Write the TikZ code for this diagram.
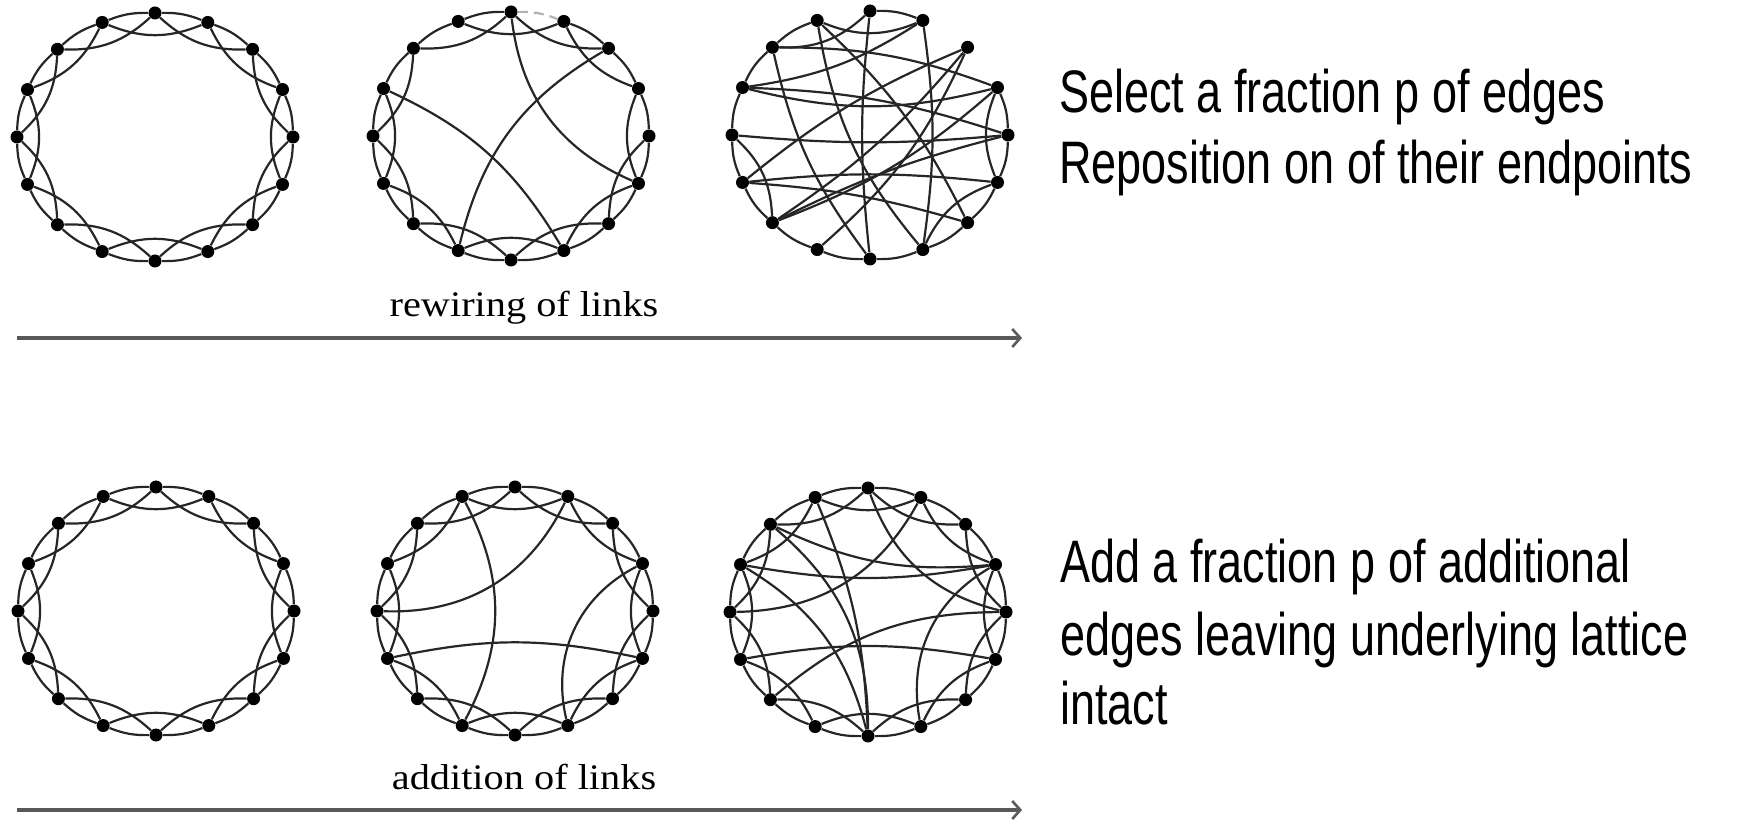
\documentclass[tikz,border=0pt]{standalone}
\usepackage{fontspec}
\usetikzlibrary{arrows.meta}
\newfontfamily\sidefont[FakeStretch=0.75]{Liberation Sans}
\newfontfamily\labfont[FakeStretch=1.12]{Liberation Serif}
\tikzset{
  dot/.style={circle, fill=black, inner sep=0pt, minimum size=6.5pt},
  lnk/.style={draw=black!85, line width=1.1pt},
  faint/.style={draw=black!30, line width=1.1pt, dash pattern=on 5pt off 3pt},
  axis/.style={draw=black!65, line width=1.8pt, -{Straight Barb[length=4pt,width=9pt,line width=1.3pt]}},
  sidetext/.style={anchor=base west, inner sep=0pt, font=\sidefont\fontsize{30}{30}\selectfont},
  labtext/.style={anchor=base, inner sep=0pt, font=\labfont\fontsize{18}{18}\selectfont}
}
\newcommand\placering[3]{%
  \foreach \k in {0,...,15}{
    \node[dot] (#1\k) at ({#2+138*cos(90-22.5*\k)},{#3+124*sin(90-22.5*\k)}) {};
  }}
\newcommand\lattice[1]{%
  \foreach \i in {0,...,15}{
    \pgfmathtruncatemacro\ja{mod(\i+1,16)}
    \pgfmathtruncatemacro\jb{mod(\i+2,16)}
    \draw[lnk] (#1\i) to[bend left=11] (#1\ja);
    \draw[lnk] (#1\i) to[bend right=22] (#1\jb);
  }}
\newcommand\edgelist[2]{%
  \foreach \a/\b/\c in {#2}{\draw[lnk] (#1\a) to[bend left=\c] (#1\b);}}
\begin{document}
\begin{tikzpicture}[x=0.5pt,y=0.5pt]
\useasboundingbox (0,0) rectangle (1746,820);
% ---- rings
\placering{a}{155}{683}
\placering{b}{511}{684}
\placering{c}{870}{685}
\placering{d}{156}{209}
\placering{e}{515}{209}
\placering{f}{868}{208}
% ---- picture 1: regular lattice
\lattice{a}
% ---- picture 2: a few rewired links
\edgelist{b}{1/2/11,2/3/11,3/4/11,4/5/11,5/6/11,6/7/11,7/8/11,8/9/11,9/10/11,10/11/11,11/12/11,12/13/11,13/14/11,14/15/11,15/0/11,
  0/2/-22,1/3/-22,3/5/-22,4/6/-22,5/7/-22,6/8/-22,7/9/-22,8/10/-22,9/11/-22,10/12/-22,11/13/-22,12/14/-22,14/0/-22,15/1/-22,
  0/5/-30,13/7/17,2/9/-23}
\draw[faint] (b0) to[bend left=11] (b1);
% ---- picture 3: random graph
\edgelist{c}{0/1/11,3/4/11,4/5/11,5/6/11,6/7/11,7/8/11,8/9/11,9/10/11,10/11/11,11/12/11,12/13/11,13/14/11,14/15/11,
  14/0/-22,15/1/-22,10/12/-22,5/7/-22,3/5/-22,
  0/8/-6,1/7/8,12/4/-5,11/5/6,13/3/-14,14/3/10,15/7/-15,14/8/-12,13/4/8,10/3/-10,10/4/6,2/9/12,2/11/-8,15/6/10,13/1/-12,
  2/10/8,6/11/-6}
% ---- picture 4: regular lattice
\lattice{d}
% ---- picture 5: lattice plus a few links
\lattice{e}
\edgelist{e}{15/9/28,12/1/-33,11/5/12,3/7/-38}
% ---- picture 6: lattice plus many links
\lattice{f}
\edgelist{f}{14/8/25,0/4/-28,12/1/-30,11/5/10,3/7/-35,10/4/20,13/8/22,15/8/10,13/3/-10,14/3/-15}
% ---- axes
\coordinate (r0) at (17,482);
\coordinate (r1) at (1022,482);
\coordinate (s0) at (17,10);
\coordinate (s1) at (1022,10);
\draw[axis] (r0) -- (r1);
\draw[axis] (s0) -- (s1);
\node[labtext] (rl) at (524,503) {rewiring of links};
\node[labtext] (al) at (524,31) {addition of links};
% ---- side texts
\node[sidetext] (t1) at (1059,707) {Select a fraction p of edges};
\node[sidetext] (t2) at (1059,636) {Reposition on of their endpoints};
\node[sidetext] (t3) at (1060,237) {Add a fraction p of additional};
\node[sidetext] (t4) at (1060,164) {edges leaving underlying lattice};
\node[sidetext] (t5) at (1060,96) {intact};
\end{tikzpicture}
\end{document}
